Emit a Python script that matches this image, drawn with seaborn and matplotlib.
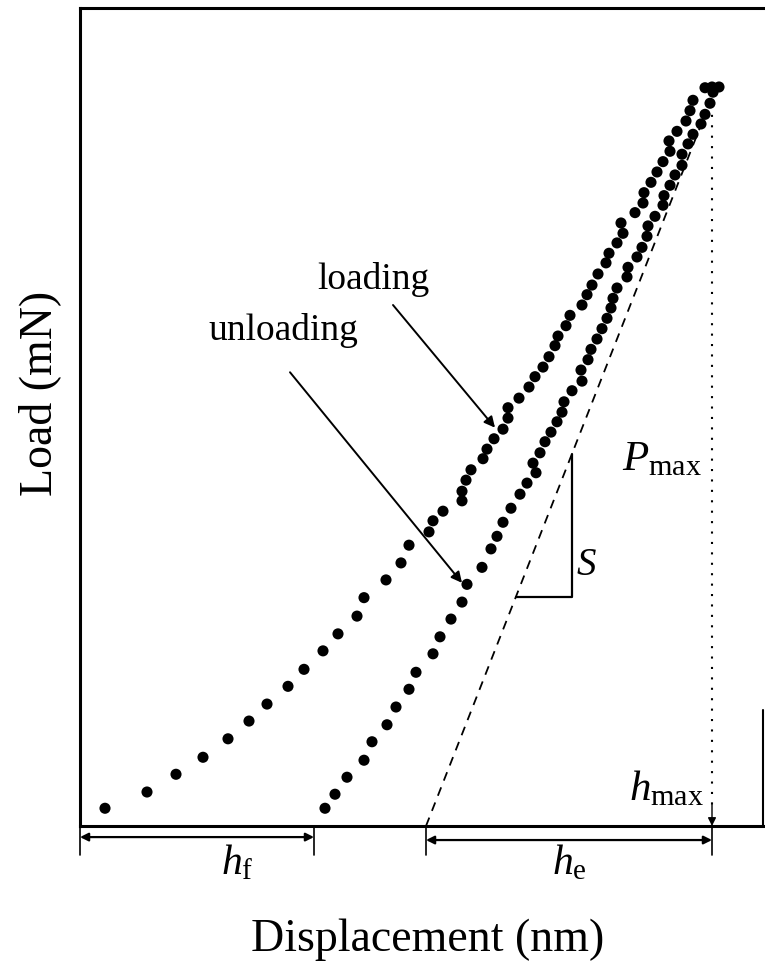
import matplotlib
matplotlib.use("Agg")
import matplotlib.pyplot as plt
import seaborn as sns
import pandas as pd

# ---------------- data ----------------
loading_disp = [25, 67, 96, 123, 148, 169, 187, 208, 224, 243,
                258, 277, 284, 306, 321, 329, 349, 353, 363, 382,
                382, 386, 391, 403, 407, 414, 423, 428, 428, 439,
                449, 455, 463, 469, 475, 478, 486, 490, 502, 507,
                512, 518, 526, 529, 537, 543, 541, 555, 563, 564,
                571, 577, 583, 590, 589, 597, 606, 610, 613, 625,
                632, 639]
loading_load = [0.24, 0.46, 0.70, 0.93, 1.18, 1.42, 1.65, 1.89, 2.12, 2.37,
                2.60, 2.84, 3.09, 3.33, 3.56, 3.80, 3.98, 4.13, 4.26, 4.40,
                4.53, 4.68, 4.82, 4.97, 5.10, 5.24, 5.37, 5.52, 5.66, 5.79,
                5.94, 6.08, 6.21, 6.35, 6.50, 6.63, 6.77, 6.91, 7.05, 7.19,
                7.32, 7.47, 7.62, 7.75, 7.89, 8.02, 8.16, 8.30, 8.43, 8.57,
                8.71, 8.85, 8.99, 9.13, 9.27, 9.40, 9.54, 9.68, 9.82, 9.99,
                10.0, 10.0]

unloading_disp = [245, 255, 267, 284, 292, 307, 316, 329, 336, 353,
                  360, 371, 382, 387, 402, 411, 417, 423, 431, 440,
                  447, 456, 453, 460, 465, 471, 477, 482, 484, 492,
                  502, 501, 508, 511, 517, 522, 527, 531, 533, 537,
                  547, 548, 557, 562, 567, 568, 575, 583, 584, 590,
                  595, 602, 602, 608, 613, 621, 625, 630, 633]
unloading_load = [0.24, 0.43, 0.66, 0.89, 1.14, 1.37, 1.61, 1.85, 2.08, 2.33,
                  2.56, 2.80, 3.03, 3.27, 3.50, 3.75, 3.92, 4.11, 4.30, 4.49,
                  4.64, 4.78, 4.91, 5.05, 5.20, 5.33, 5.47, 5.60, 5.74, 5.89,
                  6.02, 6.17, 6.31, 6.45, 6.59, 6.73, 6.87, 7.01, 7.14, 7.28,
                  7.43, 7.56, 7.70, 7.83, 7.98, 8.12, 8.25, 8.40, 8.53, 8.67,
                  8.81, 8.94, 9.09, 9.23, 9.36, 9.50, 9.63, 9.78, 9.93]

P_max = 10.0        # mN
h_max = 632         # nm
h_f = 234           # nm
h_tangent0 = 346    # nm (tangent intercept)
stiffness = 0.0345  # mN/nm
tangent_top = 9.55  # mN

# ---------------- style ----------------
sns.set_theme(style="white")
plt.rcParams["font.family"] = ["Liberation Serif", "DejaVu Serif"]
plt.rcParams["mathtext.fontset"] = "custom"
plt.rcParams["mathtext.rm"] = "Liberation Serif"
plt.rcParams["mathtext.it"] = "Liberation Serif:italic"
plt.rcParams["text.color"] = "black"
plt.rcParams["axes.labelcolor"] = "black"

df = pd.concat([
    pd.DataFrame({"disp": loading_disp, "load": loading_load, "curve": "loading"}),
    pd.DataFrame({"disp": unloading_disp, "load": unloading_load, "curve": "unloading"}),
])

fig = plt.figure(figsize=(7.65, 9.68), dpi=100)
ax = fig.add_axes([80 / 765, 142 / 968, 685 / 765, 818 / 968])

sns.scatterplot(data=df, x="disp", y="load", hue="curve",
                palette={"loading": "black", "unloading": "black"},
                s=64, edgecolor="none", legend=False, ax=ax)

ax.set_xlim(0, 685)
ax.set_ylim(0, 818 / 73.9)
ax.set_xticks([])
ax.set_yticks([])
ax.set_xlabel("")
ax.set_ylabel("")
for side in ["top", "left", "bottom"]:
    ax.spines[side].set_visible(True)
    ax.spines[side].set_color("black")
    ax.spines[side].set_linewidth(2.2)
ax.spines["right"].set_visible(False)
# short right edge segment
ax.plot([683, 683], [0, 1.57], color="black", lw=1.5, clip_on=False)

# tangent (dashed)
tx = [h_tangent0, h_tangent0 + tangent_top / stiffness]
ax.plot(tx, [0, tangent_top], color="black", lw=1.3, ls=(0, (5, 4)))

# stiffness triangle
x_v = 492
y_lo = 3.10
y_hi = (x_v - h_tangent0) * stiffness
ax.plot([h_tangent0 + y_lo / stiffness, x_v, x_v], [y_lo, y_lo, y_hi],
        color="black", lw=1.6)
ax.text(x_v + 14, (y_lo + y_hi) / 2 - 0.55, "S", fontsize=28,
        fontstyle="italic", ha="center", va="center")

# dotted vertical at h_max
ax.plot([h_max, h_max], [P_max - 0.1, 0.25], color="black", lw=1.5,
        ls=(0, (1, 4)))
ax.annotate("", xy=(h_max, 0), xytext=(h_max, 0.3),
            arrowprops=dict(arrowstyle="-|>", color="black", lw=1.0,
                            mutation_scale=12, shrinkA=0, shrinkB=0))

ax.text(582, 4.95, r"$P_{\rm max}$", fontsize=31, ha="center", va="center")
ax.text(586, 0.50, r"$h_{\rm max}$", fontsize=31, ha="center", va="center")

# labels with arrows
ax.text(293, 7.39, "loading", fontsize=27, ha="center", va="center")
ax.text(203, 6.71, "unloading", fontsize=27, ha="center", va="center")
ax.annotate("", xy=(415, 5.39), xytext=(313, 7.05),
            arrowprops=dict(arrowstyle="-|>", color="black", lw=1.4,
                            mutation_scale=16, shrinkA=0, shrinkB=0))
ax.annotate("", xy=(382, 3.29), xytext=(210, 6.14),
            arrowprops=dict(arrowstyle="-|>", color="black", lw=1.4,
                            mutation_scale=16, shrinkA=0, shrinkB=0))

# dimension lines below axis
tick_lo = -0.39
for xv in [0, h_f, h_tangent0, h_max]:
    ax.plot([xv, xv], [0, tick_lo], color="black", lw=1.2, clip_on=False)
ax.annotate("", xy=(0, -0.15), xytext=(h_f, -0.15), annotation_clip=False,
            arrowprops=dict(arrowstyle="<|-|>", color="black", lw=1.6,
                            mutation_scale=12, shrinkA=0, shrinkB=0))
ax.annotate("", xy=(h_tangent0, -0.19), xytext=(h_max, -0.19), annotation_clip=False,
            arrowprops=dict(arrowstyle="<|-|>", color="black", lw=1.6,
                            mutation_scale=12, shrinkA=0, shrinkB=0))
ax.text(h_f / 2 + 40, -0.50, r"$h_{\rm f}$", fontsize=30, ha="center", va="center",
        clip_on=False)
ax.text((h_tangent0 + h_max) / 2, -0.50, r"$h_{\rm e}$", fontsize=30,
        ha="center", va="center", clip_on=False)

fig.text(428 / 765, 1 - 940 / 968, "Displacement (nm)", fontsize=33,
         ha="center", va="center")
fig.text(40 / 765, 1 - 393 / 968, "Load (mN)", fontsize=33, rotation=90,
         ha="center", va="center")

fig.savefig("out.png", dpi=100, facecolor="white")
